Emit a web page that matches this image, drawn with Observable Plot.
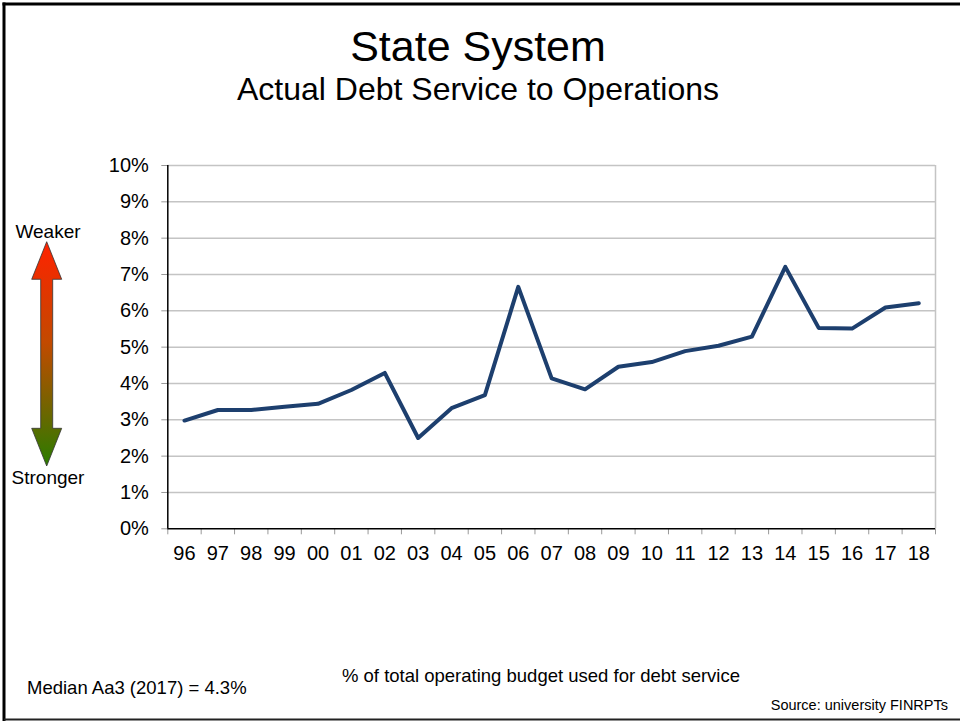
<!DOCTYPE html>
<html>
<head>
<meta charset="utf-8">
<script src="https://cdn.jsdelivr.net/npm/d3@7"></script>
<script src="https://cdn.jsdelivr.net/npm/@observablehq/plot@0.6"></script>
<style>
  html, body { margin: 0; padding: 0; background: #fff; }
  body { width: 960px; height: 721px; position: relative; overflow: hidden; font-family: "Liberation Sans", Arial, sans-serif; }
  #chart { position: absolute; left: 0; top: 0; }
  #deco { position: absolute; left: 0; top: 0; }
</style>
</head>
<body>
<div id="chart"></div>
<svg id="deco" width="960" height="721" xmlns="http://www.w3.org/2000/svg" font-family="Liberation Sans, Arial, sans-serif">
  <defs>
    <linearGradient id="grad" x1="0" y1="0" x2="0" y2="1">
      <stop offset="0" stop-color="#ff2200"/>
      <stop offset="0.45" stop-color="#c24a00"/>
      <stop offset="1" stop-color="#2a7c00"/>
    </linearGradient>
  </defs>
  <line x1="2.5" y1="4" x2="960" y2="4" stroke="#000" stroke-width="3"/>
  <line x1="4" y1="2.5" x2="4" y2="721" stroke="#000" stroke-width="3"/>
  <line x1="4" y1="719.5" x2="960" y2="719.5" stroke="#222" stroke-width="2"/>
  <text x="478" y="61" font-size="43" text-anchor="middle" fill="#000">State System</text>
  <text x="478" y="100" font-size="32" text-anchor="middle" fill="#000">Actual Debt Service to Operations</text>
  <polygon points="46.7,241.7 61.7,279.3 52.7,279.3 52.7,428.3 61.7,428.3 46.7,466 31.7,428.3 40.7,428.3 40.7,279.3 31.7,279.3" fill="url(#grad)" stroke="#333" stroke-width="0.8"/>
  <text x="48" y="238" font-size="19" text-anchor="middle" fill="#000">Weaker</text>
  <text x="48" y="484" font-size="19" text-anchor="middle" fill="#000">Stronger</text>
  <text x="27" y="694" font-size="18.5" fill="#000">Median Aa3 (2017) = 4.3%</text>
  <text x="541" y="682" font-size="18.5" text-anchor="middle" fill="#000">% of total operating budget used for debt service</text>
  <text x="948" y="710" font-size="14.5" text-anchor="end" fill="#000">Source: university FINRPTs</text>
</svg>
<script>
const years = ["96","97","98","99","00","01","02","03","04","05","06","07","08","09","10","11","12","13","14","15","16","17","18"];
const values = [2.98, 3.27, 3.27, 3.36, 3.44, 3.82, 4.29, 2.50, 3.32, 3.68, 6.66, 4.14, 3.84, 4.46, 4.59, 4.89, 5.04, 5.29, 7.21, 5.53, 5.51, 6.09, 6.21];
const yTicks = [0, 1, 2, 3, 4, 5, 6, 7, 8, 9, 10];

const idx = years.map((_, i) => i);
const boundaries = [...idx.map(i => i - 0.5), years.length - 0.5];

const chart = Plot.plot({
  width: 960,
  height: 600,
  marginTop: 165,
  marginBottom: 71.7,
  marginLeft: 167.3,
  marginRight: 25,
  style: { fontFamily: "Liberation Sans, Arial, sans-serif", fontSize: "20px", color: "#000", background: "transparent", overflow: "visible" },
  x: { domain: [-0.5, years.length - 0.5] },
  y: { domain: [0, 10] },
  marks: [
    Plot.ruleY(yTicks.filter(d => d > 0), { stroke: "#c4c4c4", strokeWidth: 1.5 }),
    Plot.ruleX([years.length - 0.5], { stroke: "#c4c4c4", strokeWidth: 1.5 }),
    Plot.axisY({ ticks: yTicks, tickFormat: d => d + "%", tickSize: 6, tickPadding: 13, stroke: "#999", fill: "#000", label: null }),
    Plot.axisX({ ticks: boundaries, tickFormat: () => "", tickSize: 6, stroke: "#999", label: null }),
    Plot.axisX({ ticks: idx, tickFormat: i => years[i], tickSize: 0, tickPadding: 17, fill: "#000", label: null }),
    Plot.ruleX([-0.5], { stroke: "#000", strokeWidth: 1.5 }),
    Plot.ruleY([0], { stroke: "#000", strokeWidth: 1.5 }),
    Plot.line(idx, { x: i => i, y: i => values[i], stroke: "#1d3f6e", strokeWidth: 4 })
  ]
});
document.getElementById("chart").appendChild(chart);
</script>
</body>
</html>
